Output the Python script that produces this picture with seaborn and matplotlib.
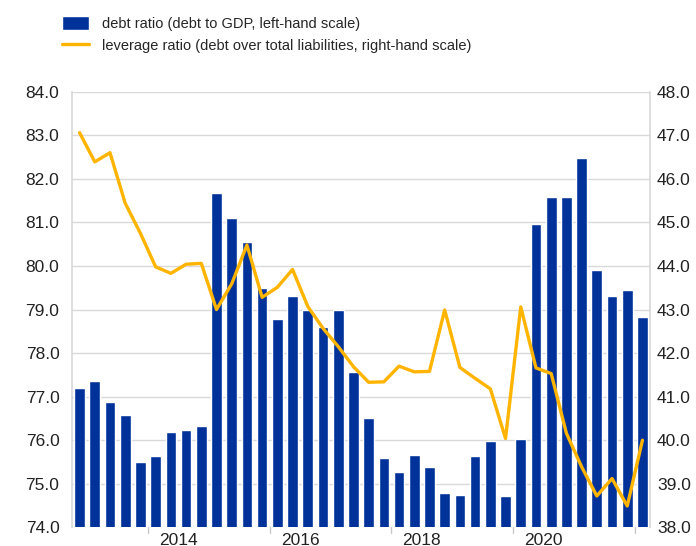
import numpy as np
import pandas as pd
import matplotlib
matplotlib.use("Agg")
import matplotlib.pyplot as plt
import seaborn as sns

# quarterly data, 2012Q4 - 2022Q1
quarters = pd.period_range("2012Q4", "2022Q1", freq="Q").astype(str).tolist()

debt_ratio = [77.19, 77.35, 76.88, 76.59, 75.50, 75.63, 76.19, 76.23, 76.33, 81.68,
              81.10, 80.54, 79.49, 78.79, 79.30, 79.00, 78.60, 78.99, 77.57, 76.50,
              75.59, 75.27, 75.65, 75.38, 74.78, 74.75, 75.64, 75.99, 74.71, 76.03,
              80.97, 81.59, 81.59, 82.49, 79.90, 79.31, 79.44, 78.83]

leverage_ratio = [47.06, 46.39, 46.60, 45.44, 44.75, 43.98, 43.83, 44.04, 44.06, 43.00,
                  43.59, 44.48, 43.28, 43.51, 43.92, 43.07, 42.57, 42.15, 41.69, 41.33,
                  41.34, 41.70, 41.57, 41.58, 42.99, 41.67, 41.42, 41.18, 40.04, 43.06,
                  41.66, 41.53, 40.16, 39.39, 38.72, 39.12, 38.49, 40.00]

year_labels = ["2014", "2016", "2018", "2020"]

df = pd.DataFrame({"quarter": quarters, "debt": debt_ratio, "leverage": leverage_ratio})
df["pos"] = np.arange(len(df))

sns.set_theme(style="white")
plt.rcParams["font.family"] = ["Liberation Sans", "DejaVu Sans"]

blue = "#003299"
yellow = "#FFB400"
grid_col = "#d9d9d9"
txt_col = "#222222"

fig = plt.figure(figsize=(6.96, 5.46), dpi=100)
ax = fig.add_axes([0.1034, 0.0342, 0.8306, 0.7978])

sns.barplot(data=df, x="quarter", y="debt", color=blue, saturation=1, width=0.7,
            ax=ax, label="debt ratio (debt to GDP, left-hand scale)", zorder=2)
ax.set_ylim(74, 84)
ax.set_yticks(np.arange(74, 84.1, 1))
ax.set_yticklabels([f"{v:.1f}" for v in np.arange(74, 84.1, 1)])
ax.yaxis.grid(True, color=grid_col, linewidth=1, zorder=0)
ax.set_axisbelow(True)

ax2 = ax.twinx()
sns.lineplot(data=df, x="pos", y="leverage", color=yellow, linewidth=2.4, ax=ax2,
             label="leverage ratio (debt over total liabilities, right-hand scale)")
ax2.set_ylim(38, 48)
ax2.set_yticks(np.arange(38, 48.1, 1))
ax2.set_yticklabels([f"{v:.1f}" for v in np.arange(38, 48.1, 1)])

ax.set_xlim(-0.44, 37.5)
# year labels centred on each labelled year
first_q1 = quarters.index("2014Q1")
label_pos = [first_q1 + 1.5 + 8 * i for i in range(len(year_labels))]
ax.set_xticks(label_pos)
ax.set_xticklabels(year_labels)
ax.tick_params(axis="x", length=0, pad=4, labelsize=12.5, colors=txt_col)
ax.set_xticks(np.arange(-0.5, len(df), 1), minor=True)
ax.tick_params(axis="x", which="minor", length=3, color="#c8c8c8", width=1)

for a in (ax, ax2):
    a.set_xlabel("")
    a.set_ylabel("")
    for s in a.spines.values():
        s.set_visible(False)
ax.spines["left"].set_visible(True)
ax.spines["left"].set_color(grid_col)
ax2.spines["right"].set_visible(True)
ax2.spines["right"].set_color(grid_col)

ax.tick_params(axis="y", length=0, labelsize=12.5, labelcolor=txt_col, pad=9)
ax2.tick_params(axis="y", length=0, labelsize=12.5, labelcolor=txt_col, pad=5)

# longer ticks at the start of each even year
for p in np.arange(first_q1 - 0.5, len(df), 8):
    ax.plot([p, p], [0, -0.014], transform=ax.get_xaxis_transform(), color="#c8c8c8",
            linewidth=1, clip_on=False)

h1, l1 = ax.get_legend_handles_labels()
h2, l2 = ax2.get_legend_handles_labels()
if ax.get_legend():
    ax.get_legend().remove()
if ax2.get_legend():
    ax2.get_legend().remove()
fig.legend(h1[:1] + h2, l1[:1] + l2, loc="upper left", bbox_to_anchor=(0.074, 0.99),
           frameon=False, prop={"size": 10.5}, handlelength=1.9, handleheight=1.16,
           handletextpad=0.85, labelspacing=0.5, borderaxespad=0.3)

fig.savefig("out.png", dpi=100)
